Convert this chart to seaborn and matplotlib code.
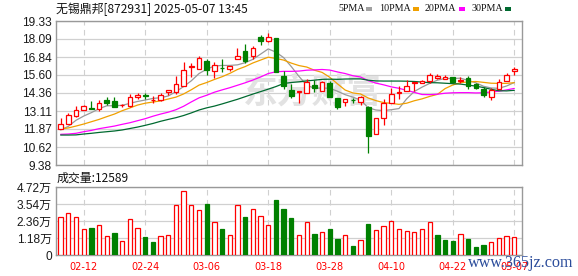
import matplotlib
matplotlib.use("Agg")
import matplotlib.pyplot as plt
from matplotlib.patches import Rectangle
import numpy as np
import pandas as pd
import seaborn as sns

# ---------------- data ----------------
dates = ["02-12", "02-24", "03-06", "03-18", "03-28", "04-10", "04-22", "05-07"]
date_idx = [3, 11, 19, 27, 35, 43, 51, 59]

opens = [11.89, 12.23, 12.76, 13.16, 13.29, 13.22, 13.87, 13.78, 13.50, 13.43,
         14.08, 14.20, 13.87, 13.87, 14.40, 14.45, 14.84, 16.13, 15.99, 16.59,
         15.87, 16.10, 16.04, 16.73, 17.26, 16.91, 18.22, 17.97, 18.15, 15.53,
         14.56, 14.40, 14.33, 14.91, 14.47, 15.07, 14.01, 13.73, 13.87, 13.76,
         13.41, 11.50, 12.65, 13.69, 14.38, 14.51, 15.07, 15.02, 15.21, 15.41,
         15.30, 15.44, 15.16, 15.41, 14.95, 14.65, 14.05, 14.61, 15.21, 15.87]
highs = [12.60, 12.97, 13.43, 13.50, 13.80, 13.85, 14.05, 14.05, 13.59, 14.28,
         14.35, 14.35, 14.12, 14.38, 14.54, 15.53, 16.47, 16.40, 16.91, 16.70,
         16.47, 16.70, 16.20, 17.46, 17.74, 17.62, 18.39, 18.48, 18.15, 15.90,
         14.95, 14.49, 15.30, 15.25, 15.21, 15.21, 14.01, 13.92, 14.01, 14.15,
         13.46, 12.60, 13.92, 14.72, 14.81, 15.23, 15.11, 15.25, 15.76, 15.67,
         15.60, 15.44, 15.48, 15.51, 15.07, 14.77, 14.72, 15.30, 15.76, 16.15]
lows = [11.89, 12.23, 12.72, 13.16, 13.27, 13.13, 13.55, 13.36, 13.36, 13.36,
        13.92, 13.94, 13.64, 13.80, 14.24, 14.28, 14.84, 15.44, 15.99, 15.60,
        15.37, 15.83, 15.87, 16.73, 16.40, 16.68, 17.65, 17.90, 15.80, 14.61,
        14.01, 13.64, 14.33, 14.45, 14.47, 14.05, 13.22, 13.48, 13.69, 13.52,
        10.23, 11.50, 12.16, 13.69, 13.94, 14.51, 14.51, 15.02, 15.02, 15.30,
        15.30, 15.11, 15.02, 14.63, 14.61, 14.05, 13.87, 14.61, 15.21, 15.62]
closes = [12.19, 12.86, 13.16, 13.43, 13.27, 13.64, 13.69, 13.36, 13.52, 14.10,
          14.19, 14.17, 13.90, 14.24, 14.54, 14.95, 15.92, 16.22, 16.75, 15.94,
          16.27, 16.08, 16.20, 16.91, 16.59, 17.46, 17.92, 18.20, 15.80, 14.84,
          14.15, 14.47, 15.11, 14.72, 15.11, 14.10, 13.36, 13.92, 13.85, 14.10,
          11.40, 12.60, 13.69, 14.28, 14.42, 14.84, 15.11, 15.16, 15.57, 15.51,
          15.44, 15.11, 15.25, 14.81, 14.72, 14.19, 14.54, 15.09, 15.57, 16.01]

ma5 = [11.80, 12.05, 12.47, 12.76, 13.00, 13.27, 13.47, 13.48, 13.50, 13.64,
       13.77, 13.87, 13.98, 14.03, 14.15, 14.45, 14.80, 15.20, 15.70, 16.00,
       16.22, 16.26, 16.26, 16.30, 16.45, 16.68, 17.04, 17.40, 17.18, 16.80,
       16.18, 15.50, 14.90, 14.68, 14.70, 14.68, 14.48, 14.24, 14.07, 13.87,
       13.34, 13.18, 13.14, 13.20, 13.28, 13.95, 14.46, 14.76, 15.02, 15.24,
       15.36, 15.36, 15.38, 15.22, 15.06, 14.82, 14.70, 14.68, 14.84, 15.08]
ma10 = [11.87, 11.94, 12.07, 12.21, 12.37, 12.53, 12.72, 12.90, 13.13, 13.32,
        13.52, 13.65, 13.73, 13.81, 13.94, 14.07, 14.29, 14.58, 14.90, 15.08,
        15.29, 15.48, 15.71, 15.98, 16.18, 16.43, 16.63, 16.83, 16.74, 16.63,
        16.42, 16.25, 16.15, 15.93, 15.78, 15.44, 14.99, 14.56, 14.36, 14.29,
        14.01, 13.83, 13.69, 13.64, 13.57, 13.65, 13.82, 13.95, 14.12, 14.26,
        14.66, 14.91, 15.07, 15.12, 15.15, 15.09, 15.03, 15.02, 15.02, 15.07]
ma20 = [11.50, 11.52, 11.57, 11.68, 11.77, 11.89, 11.98, 12.07, 12.19, 12.30,
        12.44, 12.58, 12.75, 12.90, 13.03, 13.20, 13.44, 13.74, 14.02, 14.20,
        14.41, 14.57, 14.72, 14.89, 15.06, 15.25, 15.46, 15.70, 15.82, 15.85,
        15.85, 15.87, 15.93, 15.95, 15.98, 15.94, 15.81, 15.70, 15.55, 15.46,
        15.21, 15.04, 14.92, 14.78, 14.68, 14.54, 14.40, 14.25, 14.24, 14.27,
        14.34, 14.37, 14.38, 14.38, 14.36, 14.37, 14.43, 14.48, 14.57, 14.67]
ma30 = [11.45, 11.45, 11.46, 11.52, 11.57, 11.63, 11.68, 11.73, 11.80, 11.90,
        12.00, 12.12, 12.25, 12.40, 12.53, 12.65, 12.80, 12.98, 13.18, 13.33,
        13.45, 13.60, 13.76, 13.92, 14.10, 14.28, 14.45, 14.62, 14.80, 15.01,
        15.08, 15.13, 15.19, 15.24, 15.30, 15.31, 15.30, 15.32, 15.33, 15.33,
        15.24, 15.19, 15.18, 15.18, 15.18, 15.17, 15.15, 15.11, 15.07, 15.06,
        15.03, 15.00, 14.97, 14.90, 14.83, 14.73, 14.61, 14.51, 14.50, 14.54]

volume = [2.61, 2.89, 2.61, 1.78, 1.87, 2.06, 1.30, 1.53, 0.95, 2.48,
          1.85, 1.25, 0.90, 1.30, 1.37, 3.45, 4.42, 3.45, 3.10, 3.54,
          2.27, 1.80, 1.37, 3.45, 2.64, 3.17, 2.68, 2.06, 3.82, 3.22,
          2.57, 1.37, 2.27, 1.46, 1.57, 1.80, 1.11, 1.37, 0.62, 1.02,
          2.15, 1.71, 1.99, 2.34, 1.80, 1.67, 1.57, 1.80, 2.27, 1.39,
          1.04, 0.97, 1.43, 1.11, 0.56, 0.69, 0.88, 1.16, 1.30, 1.2589]
vol_up = [1, 1, 1, 1, 0, 1, 1, 0, 1, 1,
          1, 0, 0, 1, 1, 1, 1, 1, 1, 0,
          1, 0, 1, 1, 0, 1, 1, 1, 0, 0,
          0, 1, 1, 0, 1, 0, 0, 1, 0, 1,
          0, 1, 1, 1, 1, 1, 1, 1, 1, 0,
          0, 0, 1, 0, 0, 0, 1, 1, 1, 1]

price_ticks = [9.38, 10.62, 11.87, 13.11, 14.36, 15.60, 16.84, 18.09, 19.33]
price_labels = ["9.38", "10.62", "11.87", "13.11", "14.36", "15.60", "16.84", "18.09", "19.33"]
vol_ticks = [0, 1.18, 2.36, 3.54, 4.72]
vol_labels = ["0", "1.18万", "2.36万", "3.54万", "4.72万"]

title_text = "无锡鼎邦[872931] 2025-05-07 13:45"
vol_title = "成交量:12589"
legend_names = ["5PMA", "10PMA", "20PMA", "30PMA"]

# ---------------- style ----------------
sns.set_theme(style="white")
plt.rcParams["font.family"] = ["Liberation Sans", "Noto Sans CJK SC", "DejaVu Sans"]

RED = "#ff0000"
GREEN = "#008000"
MA_COLORS = ["#999999", "#f0a000", "#ff00ff", "#006a30"]
LEG_COLORS = ["#a0a0a0", "#f0a000", "#ff00ff", "#006a30"]
GRID = "#d0d0d0"
SPINE = "#999999"
TXT = "#1a1a1a"

W, H = 578, 276
fig = plt.figure(figsize=(W / 100, H / 100), dpi=100)
fig.patch.set_facecolor("white")
ax = fig.add_axes([56 / W, 1 - 165 / H, 466 / W, 144 / H])
axv = fig.add_axes([56 / W, 1 - 255 / H, 466 / W, 68 / H])

n = len(closes)
idx = np.arange(n)
df = pd.DataFrame({"i": idx, "open": opens, "high": highs, "low": lows,
                   "close": closes, "ma5": ma5, "ma10": ma10, "ma20": ma20,
                   "ma30": ma30, "vol": volume, "vup": vol_up})

XLIM = (-0.6, 60.0)

# ---------------- main price panel ----------------
for a in (ax, axv):
    a.set_facecolor("white")
    a.set_xlim(*XLIM)
    for s in a.spines.values():
        s.set_color(SPINE)
        s.set_linewidth(1.0)
    for d in date_idx:
        a.axvline(d, color=GRID, lw=0.8, ls=(0, (5, 4)), zorder=0.6)

ax.set_ylim(9.38, 19.33)
ax.set_yticks(price_ticks)
ax.set_yticklabels(price_labels)
ax.yaxis.grid(True, color=GRID, lw=0.9, zorder=0.5)
ax.xaxis.grid(False)
ax.set_xticks([])
ax.tick_params(axis="y", length=0, pad=3, labelsize=8.6, labelcolor=TXT)

# watermark
ax.text(0.55, 0.505, "东方财富", transform=ax.transAxes, ha="center", va="center",
        fontsize=25, fontweight="bold", color="#e2e2e2", zorder=0.7,
        family=["Noto Sans CJK SC"])

# moving averages via seaborn
for col, c in zip(["ma5", "ma10", "ma20", "ma30"], MA_COLORS):
    sns.lineplot(data=df, x="i", y=col, ax=ax, color=c, lw=0.9, zorder=1.5,
                 legend=False)

# candles
up = df["close"] >= df["open"]
ccol = np.where(up, RED, GREEN)
ax.vlines(df["i"], df["low"], df["high"], colors=ccol, lw=0.9, zorder=2)
body_h = np.maximum(np.abs(df["close"] - df["open"]), 0.02)
body_b = np.minimum(df["open"], df["close"])
ax.bar(df["i"], body_h, bottom=body_b, width=0.6,
       color=np.where(up, "white", GREEN), edgecolor=ccol, linewidth=0.9, zorder=3)
ax.set_xlabel("")
ax.set_ylabel("")

# ---------------- volume panel ----------------
vcol = np.where(df["vup"] == 1, RED, GREEN)
axv.bar(df["i"], df["vol"], width=0.56, color=np.where(df["vup"] == 1, "white", GREEN),
        edgecolor=vcol, linewidth=0.9, zorder=3)
axv.set_ylim(0, 4.72)
axv.set_yticks(vol_ticks)
axv.set_yticklabels(vol_labels)
axv.yaxis.grid(True, color=GRID, lw=0.9, zorder=0.5)
axv.tick_params(axis="y", length=0, pad=3, labelsize=8.6, labelcolor=TXT)
axv.set_xticks(date_idx)
axv.set_xticklabels(dates)
axv.tick_params(axis="x", length=0, pad=5, labelsize=7, labelcolor=RED)
for t in axv.get_xticklabels():
    t.set_family(["DejaVu Sans"])
axv.set_xlabel("")
axv.set_ylabel("")

# ---------------- texts ----------------
fig.text(56 / W, 1 - 9.5 / H, title_text, ha="left", va="center", fontsize=8.6,
         color="#111111", family=["Noto Sans CJK SC", "DejaVu Sans"])
fig.text(57 / W, 1 - 178 / H, vol_title, ha="left", va="center", fontsize=8.6,
         color="#111111", family=["Noto Sans CJK SC", "DejaVu Sans"])

leg_x = [338, 379, 425, 471]
sq_x = [366, 413, 459, 505]
for name, lx, sx, c in zip(legend_names, leg_x, sq_x, LEG_COLORS):
    fig.text(lx / W, 1 - 8.5 / H, name, ha="left", va="center", fontsize=7.2,
             color="#111111", family=["Liberation Serif"])
    fig.add_artist(Rectangle((sx / W, 1 - 10.5 / H), 5.5 / W, 3.5 / H,
                             transform=fig.transFigure, facecolor=c,
                             edgecolor="none"))

fig.text(468 / W, 1 - 263 / H, "www.365jz.com", ha="left", va="center",
         fontsize=11.6, color="#2b4c9b", family=["Liberation Serif"], zorder=10)

fig.savefig("out.png", dpi=100)
